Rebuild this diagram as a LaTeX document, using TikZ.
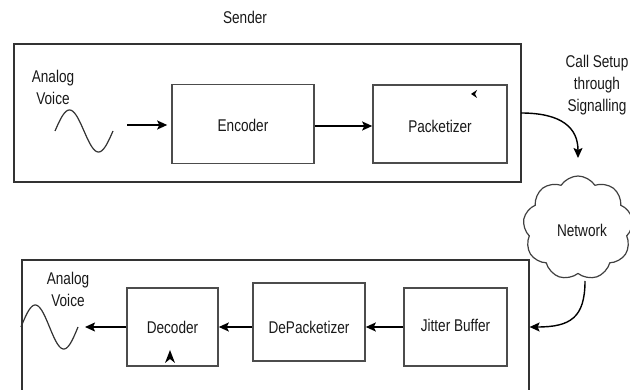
\documentclass[tikz,border=0pt]{standalone}
\usepackage{fontspec}
\setmainfont[FakeStretch=0.8]{Liberation Sans}
\usetikzlibrary{arrows.meta,shapes.symbols}
\begin{document}
\begin{tikzpicture}[x=1pt,y=-1pt,
  every node/.style={font=\fontsize{17}{22}\selectfont, text=black!90},
  frame/.style={draw=black!80, line width=1.6pt, inner sep=0pt},
  block/.style={draw=black!70, line width=1.6pt, inner sep=0pt},
  arr/.style={draw=black, line width=1.4pt, -{Stealth[length=10pt,width=9pt,inset=2pt]}},
  wave/.style={draw=black!80, line width=1.2pt},
  label/.style={align=center, inner sep=0pt}]
\useasboundingbox (0,0) rectangle (630,390);
\clip (0,0) rectangle (630,390);

% sender side
\node[label] (sendertitle) at (245,17) {Sender};
\node[frame, minimum width=507, minimum height=138] (sender) at (267.5,113) {};
\node[label] (avin) at (53,87) {Analog\\Voice};
\draw[wave] plot[domain=0:360, samples=72] ({55+\x/360*58}, {131-21*sin(\x)});
\coordinate (win) at (127,125);
\node[block, minimum width=142, minimum height=79] (enc) at (243,124) {};
\node[label] at (243,125) {Encoder};
\node[block, minimum width=134, minimum height=78] (pk) at (440,124) {};
\node[label] at (440,126) {Packetizer};
\draw[arr, shorten >=4pt] (win) -- (win -| enc.west);
\draw[arr] (enc.east |- 0,126) -- (pk.west |- 0,126);
\fill[black] (471,94) -- (477,90) -- (475,94) -- (477,98) -- cycle;

% signalling path through the network
\node[label] (sig) at (597,85) {Call Setup\\through\\Signalling};
\coordinate (sout) at (521,113);
\coordinate (cin) at (578,158);
\draw[arr] (sout) .. controls (562,113) and (578,128) .. (cin);
\node[cloud, cloud puffs=9, cloud puff arc=115, aspect=1.05, draw=black!75, line width=1.2pt,
      minimum width=110, minimum height=104, inner sep=0pt] (net) at (578,228) {};
\node[label] (netlabel) at (582,230) {Network};

% receiver side
\node[frame, minimum width=507, minimum height=200, anchor=north west] (recv) at (21,259) {};
\coordinate (cout) at (585,281);
\draw[arr] (cout) .. controls (585,318) and (570,327) .. (recv.east |- 0,327);

\node[block, minimum width=103, minimum height=78] (jit) at (455.5,327) {};
\node[label] at (455.5,325) {Jitter Buffer};
\node[block, minimum width=112, minimum height=78] (dep) at (309,322) {};
\node[label] at (309,327) {DePacketizer};
\node[block, minimum width=91, minimum height=78] (dec) at (172.5,327) {};
\node[label] at (172.5,327) {Decoder};
\draw[arr] (jit.west |- 0,327) -- (dep.east |- 0,327);
\draw[arr] (dep.west |- 0,327) -- (dec.east |- 0,327);
\coordinate (vout) at (85,327);
\draw[arr] (dec.west) -- (vout);
\draw[wave] plot[domain=0:360, samples=72] ({21+\x/360*57}, {327-22*sin(\x)});
\node[label] (avout) at (68,289) {Analog\\Voice};
\fill[black] (170,350) -- (175,363) -- (170,359) -- (165,363) -- cycle;
\end{tikzpicture}
\end{document}
